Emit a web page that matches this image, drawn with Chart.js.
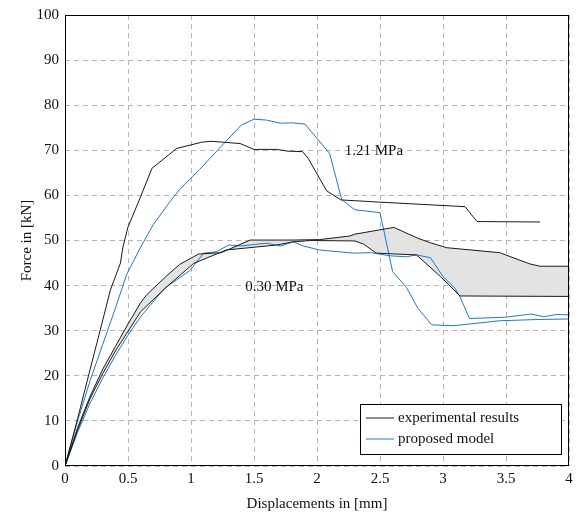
<!DOCTYPE html>
<html lang="en">
<head>
    <meta charset="UTF-8">
    <title>Force vs displacement</title>
    <script src="https://cdn.jsdelivr.net/npm/chart.js"></script>
    <style>
        html, body { margin: 0; padding: 0; background: #fff; }
        #wrap { width: 579px; height: 517px; }
    </style>
</head>
<body>
<div id="wrap"><canvas id="chart"></canvas></div>
<script>
    // experimental results, 1.21 MPa
    const exp121X = [0, 0.1, 0.2, 0.3, 0.36, 0.44, 0.46, 0.5, 0.6, 0.69, 0.886, 1.085, 1.16, 1.39, 1.5, 1.68, 1.77, 1.886, 1.93, 2.077, 2.19, 2.5, 3.175, 3.27, 3.77];
    const exp121Y = [0, 10.5, 21.5, 32.4, 39, 45, 48.6, 53, 59.7, 66, 70.4, 71.8, 72, 71.5, 70.2, 70.2, 69.8, 69.7, 68.2, 61, 59, 58.5, 57.5, 54.2, 54.1];

    // proposed model, 1.21 MPa
    const mod121X = [0, 0.1, 0.2, 0.3, 0.4, 0.49, 0.6, 0.7, 0.83, 0.91, 1.07, 1.257, 1.4, 1.5, 1.6, 1.71, 1.8, 1.905, 2.1, 2.196, 2.3, 2.5, 2.6, 2.71, 2.8, 2.91, 3.08, 3.45, 3.77, 4.0];
    const mod121Y = [0, 10, 19, 27, 35, 42.5, 48.5, 53.5, 58.5, 61.3, 65.8, 71.4, 75.6, 76.9, 76.7, 76, 76.1, 75.8, 69.3, 59.1, 56.8, 56.2, 43.1, 39.6, 35, 31.3, 31.1, 32.2, 32.5, 32.6];

    // experimental results, 0.30 MPa (two specimens, band between them)
    const exp030aX = [0, 0.1, 0.2, 0.3, 0.4, 0.5, 0.6, 0.65, 0.8, 0.91, 1.06, 1.24, 1.47, 1.81, 2.02, 2.26, 2.3, 2.61, 2.8, 2.9, 3.03, 3.45, 3.69, 3.77, 4.0];
    const exp030aY = [0, 8.5, 15.5, 21.5, 26.5, 31.5, 36.2, 38, 42, 44.7, 47, 47.3, 50.1, 50.1, 50.2, 51, 51.4, 52.9, 50.5, 49.5, 48.4, 47.3, 44.8, 44.3, 44.3];
    const exp030bX = [0, 0.1, 0.2, 0.3, 0.4, 0.6, 0.81, 1.02, 1.28, 1.68, 1.81, 1.95, 2.3, 2.37, 2.47, 2.79, 2.98, 3.135, 4.0];
    const exp030bY = [0, 8, 15, 20.5, 25.5, 34.2, 39.8, 44.9, 47.9, 49, 49.7, 50, 49.9, 49.2, 47.2, 46.8, 42, 37.7, 37.6];

    // proposed model, 0.30 MPa
    const mod030X = [0, 0.1, 0.2, 0.3, 0.4, 0.5, 0.6, 0.79, 0.99, 1.1, 1.2, 1.3, 1.4, 1.6, 1.71, 1.81, 1.89, 2.02, 2.29, 2.43, 2.58, 2.71, 2.79, 2.9, 3.0, 3.095, 3.135, 3.21, 3.5, 3.7, 3.8, 3.9, 4.0];
    const mod030Y = [0, 7.5, 14, 19.5, 24.5, 29, 33.1, 39.4, 43.3, 47.2, 47.5, 49, 48.8, 49.4, 48.8, 49.7, 48.8, 47.9, 47.2, 47.3, 46.6, 46.4, 46.8, 46.2, 42, 39.4, 37.5, 32.7, 33, 33.7, 33.1, 33.6, 33.5];

    const xTicks = [0, 0.5, 1, 1.5, 2, 2.5, 3, 3.5, 4];
    const yTicks = [0, 10, 20, 30, 40, 50, 60, 70, 80, 90, 100];

    const BLACK = '#1a1a1a';
    const BLUE = '#1f78c8';
    const FONT = '"Liberation Serif", serif';

    function pts(xs, ys) {
        return xs.map((x, i) => ({ x: x, y: ys[i] }));
    }

    // frame, text labels and legend box
    const extras = {
        id: 'extras',
        afterDraw(chart) {
            const ctx = chart.ctx;
            const a = chart.chartArea;
            const sx = chart.scales.x, sy = chart.scales.y;
            ctx.save();
            ctx.strokeStyle = '#000';
            ctx.lineWidth = 1;
            ctx.strokeRect(a.left + 0.5, a.top + 0.5, a.right - a.left - 1, a.bottom - a.top - 1);

            ctx.fillStyle = '#111';
            ctx.font = '15px ' + FONT;
            ctx.textBaseline = 'middle';
            ctx.textAlign = 'left';
            ctx.fillText('1.21 MPa', sx.getPixelForValue(2.22), sy.getPixelForValue(69.8));
            ctx.fillText('0.30 MPa', sx.getPixelForValue(1.43), sy.getPixelForValue(39.6));

            // legend
            const bx = 360, by = 404, bw = 201, bh = 50;
            ctx.fillStyle = '#fff';
            ctx.fillRect(bx, by, bw, bh);
            ctx.strokeStyle = '#000';
            ctx.strokeRect(bx + 0.5, by + 0.5, bw, bh);
            const rows = [['experimental results', BLACK], ['proposed model', BLUE]];
            rows.forEach((r, i) => {
                const yy = by + 14 + i * 21;
                ctx.strokeStyle = r[1];
                ctx.beginPath();
                ctx.moveTo(bx + 6, yy);
                ctx.lineTo(bx + 34, yy);
                ctx.stroke();
                ctx.fillStyle = '#111';
                ctx.fillText(r[0], bx + 38, yy);
            });
            ctx.restore();
        }
    };

    new Chart(document.getElementById('chart'), {
        type: 'line',
        data: {
            datasets: [
                {
                    label: 'experimental results 0.30 a',
                    data: pts(exp030aX, exp030aY),
                    borderColor: BLACK,
                    borderWidth: 1,
                    fill: '+1',
                    backgroundColor: '#e3e3e3'
                },
                {
                    label: 'experimental results 0.30 b',
                    data: pts(exp030bX, exp030bY),
                    borderColor: BLACK,
                    borderWidth: 1,
                    fill: false
                },
                {
                    label: 'experimental results 1.21',
                    data: pts(exp121X, exp121Y),
                    borderColor: BLACK,
                    borderWidth: 1,
                    fill: false
                },
                {
                    label: 'proposed model 1.21',
                    data: pts(mod121X, mod121Y),
                    borderColor: BLUE,
                    borderWidth: 1,
                    fill: false
                },
                {
                    label: 'proposed model 0.30',
                    data: pts(mod030X, mod030Y),
                    borderColor: BLUE,
                    borderWidth: 1,
                    fill: false
                }
            ]
        },
        options: {
            responsive: true,
            maintainAspectRatio: false,
            animation: false,
            elements: { point: { radius: 0 }, line: { tension: 0 } },
            layout: { padding: { left: 14, top: 15, right: 10, bottom: 0 } },
            plugins: {
                legend: { display: false },
                tooltip: { enabled: false },
                filler: { drawTime: 'beforeDatasetsDraw' }
            },
            scales: {
                x: {
                    type: 'linear',
                    min: 0,
                    max: 4,
                    afterBuildTicks: s => { s.ticks = xTicks.map(v => ({ value: v })); },
                    afterFit: s => { s.height = 51; },
                    afterUpdate: s => { s.right = 569; },
                    grid: { color: '#b5b5b5', drawTicks: false, tickLength: 0 },
                    border: { display: false, dash: [5, 4] },
                    ticks: { color: '#111', font: { family: FONT, size: 15 }, padding: 4, maxRotation: 0, callback: v => String(v) },
                    title: { display: true, text: 'Displacements in [mm]', color: '#111', font: { family: FONT, size: 15 }, padding: { top: 4 } }
                },
                y: {
                    type: 'linear',
                    min: 0,
                    max: 100,
                    afterBuildTicks: s => { s.ticks = yTicks.map(v => ({ value: v })); },
                    afterFit: s => { s.width = 51; },
                    grid: { color: '#b5b5b5', drawTicks: false, tickLength: 0 },
                    border: { display: false, dash: [5, 4] },
                    ticks: { color: '#111', font: { family: FONT, size: 15 }, padding: 6 },
                    title: { display: true, text: 'Force in [kN]', color: '#111', font: { family: FONT, size: 15 }, padding: { bottom: 4 } }
                }
            }
        },
        plugins: [extras]
    });
</script>
</body>
</html>
